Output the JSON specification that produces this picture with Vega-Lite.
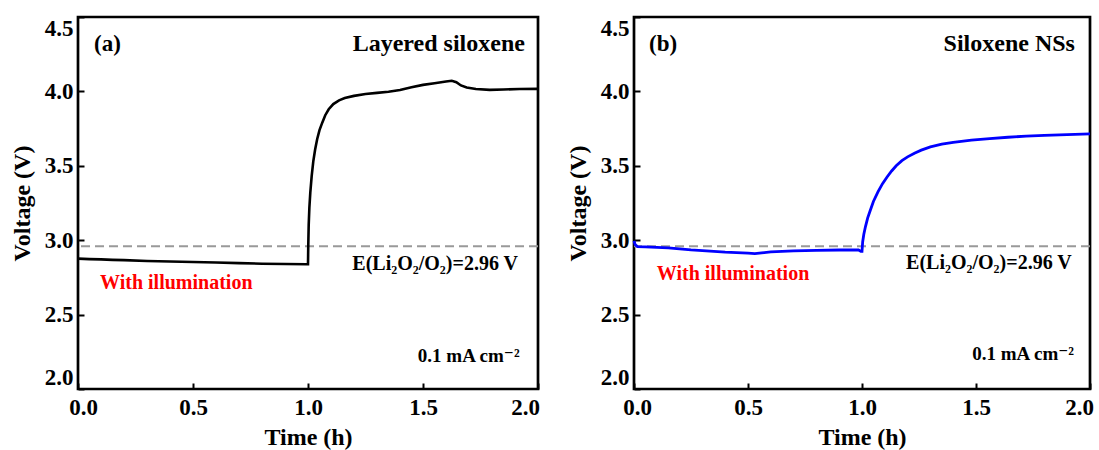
{
  "$schema": "https://vega.github.io/schema/vega-lite/v6.json",
  "background": "white",
  "padding": {"left": 8, "top": 14, "right": 5, "bottom": 0},
  "spacing": 19,
  "config": {
    "view": {"stroke": "black", "strokeWidth": 2.7},
    "axis": {
      "domain": false, "grid": false,
      "labelFont": "Times New Roman, Liberation Serif, DejaVu Serif, serif", "labelFontWeight": "bold", "labelFontSize": 23, "labelColor": "black",
      "titleFont": "Times New Roman, Liberation Serif, DejaVu Serif, serif", "titleFontWeight": "bold", "titleFontSize": 24, "titleColor": "black",
      "tickColor": "black", "tickWidth": 2, "tickSize": -6
    },
    "text": {"font": "Times New Roman, Liberation Serif, DejaVu Serif, serif", "fontWeight": "bold", "baseline": "middle", "color": "black"}
  },
  "datasets": {
    "a": [
      {"t": 0.0, "v": 2.876}, {"t": 0.05, "v": 2.873}, {"t": 0.1, "v": 2.871}, {"t": 0.15, "v": 2.868},
      {"t": 0.2, "v": 2.866}, {"t": 0.3, "v": 2.86}, {"t": 0.4, "v": 2.857}, {"t": 0.5, "v": 2.854},
      {"t": 0.6, "v": 2.85}, {"t": 0.7, "v": 2.846}, {"t": 0.8, "v": 2.842}, {"t": 0.9, "v": 2.84},
      {"t": 0.995, "v": 2.838}, {"t": 1.0, "v": 2.838}, {"t": 1.001, "v": 2.95}, {"t": 1.003, "v": 3.1},
      {"t": 1.006, "v": 3.22}, {"t": 1.01, "v": 3.32}, {"t": 1.016, "v": 3.43}, {"t": 1.023, "v": 3.53},
      {"t": 1.031, "v": 3.61}, {"t": 1.04, "v": 3.68}, {"t": 1.05, "v": 3.74}, {"t": 1.062, "v": 3.79},
      {"t": 1.075, "v": 3.84}, {"t": 1.09, "v": 3.88}, {"t": 1.11, "v": 3.915}, {"t": 1.135, "v": 3.94},
      {"t": 1.16, "v": 3.955}, {"t": 1.2, "v": 3.97}, {"t": 1.25, "v": 3.982}, {"t": 1.3, "v": 3.99},
      {"t": 1.35, "v": 3.998}, {"t": 1.4, "v": 4.01}, {"t": 1.45, "v": 4.028}, {"t": 1.5, "v": 4.044},
      {"t": 1.55, "v": 4.055}, {"t": 1.6, "v": 4.066}, {"t": 1.625, "v": 4.071}, {"t": 1.645, "v": 4.062},
      {"t": 1.665, "v": 4.04}, {"t": 1.69, "v": 4.026}, {"t": 1.73, "v": 4.016}, {"t": 1.79, "v": 4.01},
      {"t": 1.85, "v": 4.013}, {"t": 1.92, "v": 4.016}, {"t": 2.0, "v": 4.017}
    ],
    "b": [
      {"t": 0.0, "v": 2.995}, {"t": 0.005, "v": 2.97}, {"t": 0.015, "v": 2.957}, {"t": 0.05, "v": 2.955},
      {"t": 0.1, "v": 2.952}, {"t": 0.15, "v": 2.948}, {"t": 0.2, "v": 2.942}, {"t": 0.25, "v": 2.935},
      {"t": 0.3, "v": 2.93}, {"t": 0.35, "v": 2.925}, {"t": 0.4, "v": 2.92}, {"t": 0.45, "v": 2.917},
      {"t": 0.5, "v": 2.913}, {"t": 0.53, "v": 2.91}, {"t": 0.56, "v": 2.915}, {"t": 0.6, "v": 2.922},
      {"t": 0.7, "v": 2.928}, {"t": 0.8, "v": 2.932}, {"t": 0.9, "v": 2.934}, {"t": 0.985, "v": 2.934},
      {"t": 0.995, "v": 2.925}, {"t": 1.0, "v": 2.925}, {"t": 1.003, "v": 2.99}, {"t": 1.008, "v": 3.04},
      {"t": 1.015, "v": 3.09}, {"t": 1.025, "v": 3.15}, {"t": 1.035, "v": 3.195}, {"t": 1.05, "v": 3.26},
      {"t": 1.07, "v": 3.325}, {"t": 1.09, "v": 3.38}, {"t": 1.11, "v": 3.425}, {"t": 1.13, "v": 3.465},
      {"t": 1.15, "v": 3.5}, {"t": 1.175, "v": 3.535}, {"t": 1.2, "v": 3.56}, {"t": 1.23, "v": 3.585},
      {"t": 1.26, "v": 3.605}, {"t": 1.3, "v": 3.627}, {"t": 1.35, "v": 3.645}, {"t": 1.4, "v": 3.658},
      {"t": 1.48, "v": 3.672}, {"t": 1.56, "v": 3.683}, {"t": 1.64, "v": 3.692}, {"t": 1.72, "v": 3.699},
      {"t": 1.8, "v": 3.705}, {"t": 1.9, "v": 3.71}, {"t": 2.0, "v": 3.714}
    ],
    "one": [{}]
  },
  "hconcat": [
    {
      "width": 460, "height": 372,
      "layer": [
        {"data": {"name": "one"}, "mark": {"type": "rule", "strokeDash": [9, 5], "color": "#999999", "strokeWidth": 2},
         "encoding": {"y": {"datum": 2.96, "type": "quantitative"}}},
        {"data": {"name": "a"}, "mark": {"type": "line", "color": "black", "strokeWidth": 2.6},
         "encoding": {
           "x": {"field": "t", "type": "quantitative", "scale": {"domain": [0, 2], "nice": false, "zero": false},
                 "axis": {"title": "Time (h)", "values": [0, 0.5, 1, 1.5, 2], "format": ".1f", "labelPadding": 13, "titlePadding": 6, "labelFlush": false,
                          "labelOffset": {"expr": "datum.value == 2 ? -13 : (datum.value == 0 ? 5 : 0)"}}},
           "y": {"field": "v", "type": "quantitative", "scale": {"domain": [2, 4.5], "nice": false, "zero": false},
                 "axis": {"title": "Voltage (V)", "values": [2, 2.5, 3, 3.5, 4, 4.5], "format": ".1f", "labelPadding": 11, "labelFlush": true, "titlePadding": 10}}
         }},
        {"data": {"name": "one"}, "mark": {"type": "text", "align": "left", "fontSize": 23},
         "encoding": {"x": {"datum": 0.07, "type": "quantitative"}, "y": {"datum": 4.32, "type": "quantitative"}, "text": {"value": "(a)"}}},
        {"data": {"name": "one"}, "mark": {"type": "text", "align": "right", "fontSize": 24},
         "encoding": {"x": {"datum": 1.943, "type": "quantitative"}, "y": {"datum": 4.32, "type": "quantitative"}, "text": {"value": "Layered siloxene"}}},
        {"data": {"name": "one"}, "mark": {"type": "text", "align": "right", "fontSize": 20},
         "encoding": {"x": {"datum": 1.913, "type": "quantitative"}, "y": {"datum": 2.84, "type": "quantitative"}, "text": {"value": "E(Li₂O₂/O₂)=2.96 V"}}},
        {"data": {"name": "one"}, "mark": {"type": "text", "align": "left", "fontSize": 20, "color": "#ff0000"},
         "encoding": {"x": {"datum": 0.096, "type": "quantitative"}, "y": {"datum": 2.71, "type": "quantitative"}, "text": {"value": "With illumination"}}},
        {"data": {"name": "one"}, "mark": {"type": "text", "align": "right", "fontSize": 19},
         "encoding": {"x": {"datum": 1.92, "type": "quantitative"}, "y": {"datum": 2.22, "type": "quantitative"}, "text": {"value": "0.1 mA cm⁻²"}}}
      ]
    },
    {
      "width": 456, "height": 372,
      "layer": [
        {"data": {"name": "one"}, "mark": {"type": "rule", "strokeDash": [9, 5], "color": "#999999", "strokeWidth": 2},
         "encoding": {"y": {"datum": 2.96, "type": "quantitative"}}},
        {"data": {"name": "b"}, "mark": {"type": "line", "color": "#0000ff", "strokeWidth": 2.8},
         "encoding": {
           "x": {"field": "t", "type": "quantitative", "scale": {"domain": [0, 2], "nice": false, "zero": false},
                 "axis": {"title": "Time (h)", "values": [0, 0.5, 1, 1.5, 2], "format": ".1f", "labelPadding": 13, "titlePadding": 6, "labelFlush": false,
                          "labelOffset": {"expr": "datum.value == 2 ? -11 : (datum.value == 0 ? 3 : 0)"}}},
           "y": {"field": "v", "type": "quantitative", "scale": {"domain": [2, 4.5], "nice": false, "zero": false},
                 "axis": {"title": "Voltage (V)", "values": [2, 2.5, 3, 3.5, 4, 4.5], "format": ".1f", "labelPadding": 11, "labelFlush": true, "titlePadding": 10}}
         }},
        {"data": {"name": "one"}, "mark": {"type": "text", "align": "left", "fontSize": 23},
         "encoding": {"x": {"datum": 0.066, "type": "quantitative"}, "y": {"datum": 4.32, "type": "quantitative"}, "text": {"value": "(b)"}}},
        {"data": {"name": "one"}, "mark": {"type": "text", "align": "right", "fontSize": 24},
         "encoding": {"x": {"datum": 1.934, "type": "quantitative"}, "y": {"datum": 4.32, "type": "quantitative"}, "text": {"value": "Siloxene NSs"}}},
        {"data": {"name": "one"}, "mark": {"type": "text", "align": "right", "fontSize": 20},
         "encoding": {"x": {"datum": 1.92, "type": "quantitative"}, "y": {"datum": 2.85, "type": "quantitative"}, "text": {"value": "E(Li₂O₂/O₂)=2.96 V"}}},
        {"data": {"name": "one"}, "mark": {"type": "text", "align": "left", "fontSize": 20, "color": "#ff0000"},
         "encoding": {"x": {"datum": 0.1, "type": "quantitative"}, "y": {"datum": 2.774, "type": "quantitative"}, "text": {"value": "With illumination"}}},
        {"data": {"name": "one"}, "mark": {"type": "text", "align": "right", "fontSize": 19},
         "encoding": {"x": {"datum": 1.93, "type": "quantitative"}, "y": {"datum": 2.235, "type": "quantitative"}, "text": {"value": "0.1 mA cm⁻²"}}}
      ]
    }
  ]
}
